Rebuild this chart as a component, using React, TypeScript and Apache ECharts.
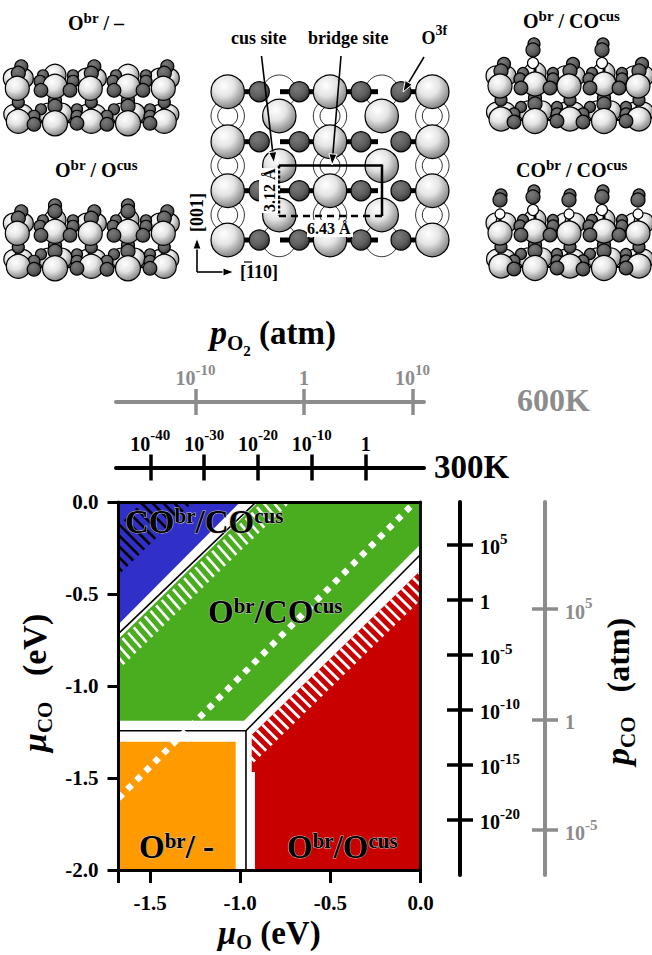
import React, { useEffect, useRef } from "react";
import * as echarts from "echarts";

const SERIF = '"Liberation Serif", "Times New Roman", serif';

// ---- phase diagram data (μO, μCO in eV) ----
const xRange = [-1.675, 0];
const yRange = [-2, 0];
const xTickValues = [-1.675, -1.5, -1, -0.5, 0];
const xLabelValues = [-1.5, -1, -0.5, 0];
const yTickValues = [0, -0.5, -1, -1.5, -2];

const blueRegion = [[-1.675, -0.665], [-1.675, 0], [-1.0, 0]];
const greenRegion = [[-1.675, -1.189], [-0.979, -1.189], [-0.008, -0.238], [0, -0.238], [0, 0], [-0.9, 0], [-1.675, -0.745]];
const orangeRegion = [[-1.675, -2], [-1.025, -2], [-1.025, -1.303], [-1.675, -1.303]];
const redRegion = [[-0.936, -1.266], [0, -0.372], [0, -2], [-0.918, -2], [-0.918, -1.467], [-0.936, -1.467]];
const regionColors = ["#3030c8", "#4aad20", "#ff9b00", "#c80000"];

const boundaryA = [[-1.675, -0.715], [-0.912, 0]];
const boundaryB = [[-1.675, -1.243], [-0.968, -1.243], [-0.968, -2]];
const boundaryC = [[-0.968, -1.243], [0, -0.285]];
const dottedLine = [[-1.675, -1.61], [-0.05, -0.02]];

const blackHatchEdge = [[-1.777, -0.495], [-1.195, 0.065]];
const greenHatchEdge = [[-1.777, -0.859], [-0.752, 0.12]];
const redHatchEdge = [[-1.001, -1.329], [0.0515, -0.324]];

// ---- pressure scales (log10 p) ----
const o2Range600 = [-17.33, 11.06];
const o2Ticks600 = [-10, 0, 10];
const o2Range300 = [-46.37, 10.83];
const o2Ticks300 = [-40, -30, -20, -10, 0];
const coRange300 = [-25.06, 8.85];
const coTicks300 = [5, 0, -5, -10, -15, -20];
const coRange600 = [-7.03, 9.81];
const coTicks600 = [5, 0, -5];

// ---- text helpers ----
type Run = [string, number, number?, boolean?]; // text, size, rise, italic
let ctx: CanvasRenderingContext2D | null = null;
function fontOf(size: number, italic?: boolean) {
  return `${italic ? "italic " : ""}bold ${size}px ${SERIF}`;
}
function widthOf(t: string, size: number, italic?: boolean) {
  if (!ctx) ctx = document.createElement("canvas").getContext("2d");
  ctx!.font = fontOf(size, italic);
  return ctx!.measureText(t).width;
}
function runs(x: number, baseline: number, items: Run[], o: any = {}) {
  let cx = 0;
  const children = items.map(([t, size, rise = 0, italic]) => {
    const el = {
      type: "text",
      x: cx,
      y: -rise - 0.3375 * size,
      z: 100,
      style: {
        text: t,
        font: fontOf(size, italic),
        fill: o.fill || "#000",
        textVerticalAlign: "middle",
        textAlign: "left",
        ...(o.stroke ? { stroke: o.stroke, lineWidth: o.lineWidth || 1 } : {}),
      },
    };
    cx += widthOf(t, size, italic);
    return el;
  });
  return { type: "group", x, y: baseline, rotation: o.rotation || 0, children };
}

// ---- atoms ----
const lightFill = {
  type: "radial", x: 0.38, y: 0.32, r: 0.72,
  colorStops: [{ offset: 0, color: "#ffffff" }, { offset: 0.45, color: "#e4e4e4" }, { offset: 1, color: "#7c7c7c" }],
};
const darkFill = {
  type: "radial", x: 0.38, y: 0.32, r: 0.72,
  colorStops: [{ offset: 0, color: "#7a7a7a" }, { offset: 0.6, color: "#5e5e5e" }, { offset: 1, color: "#333333" }],
};
function atom(cx: number, cy: number, r: number, kind: "l" | "d" | "w", lw = 1.2) {
  return {
    type: "circle",
    shape: { cx, cy, r },
    style: { fill: kind === "l" ? lightFill : kind === "d" ? darkFill : "#ffffff", stroke: "#000", lineWidth: lw },
  };
}
function bar(x1: number, y1: number, x2: number, y2: number, w = 3, color = "#000", dash?: any) {
  return {
    type: "line",
    shape: { x1, y1, x2, y2 },
    style: { stroke: color, lineWidth: w, ...(dash ? { lineDash: dash } : {}) },
  };
}

function slab(x: number, y: number, P: number, B: number, cusTop: "none" | "O" | "CO", brCO: boolean) {
  const out: any[] = [];
  const colsA = [0, P, 2 * P];
  const colsB = [B, B + P];
  // lower back layer
  colsA.forEach((X) => {
    out.push(atom(X - 4, 26, 9.5, "l"), atom(X + 6, 26, 9.5, "l"));
  });
  colsB.forEach((X) => {
    out.push(atom(X - 7, 25, 10, "l"), atom(X + 7, 25, 10, "l"));
    out.push(bar(X - 20, 34, X + 20, 34, 2));
    out.push(atom(X, 12, 6.5, "d"), atom(X, 18, 7, "d"));
  });
  colsB.forEach((X) => {
    out.push(atom(X - 14, 21, 5.5, "d"), atom(X + 22, 21, 5.5, "d"));
    out.push(atom(X - 21, 28, 6, "d"), atom(X + 22, 28, 6, "d"));
  });
  colsA.forEach((X) => out.push(atom(X + 1, 33, 12, "l")));
  colsB.forEach((X) => out.push(atom(X, 35, 12.5, "l")));
  colsB.forEach((X) => {
    out.push(atom(X - 21, 36, 6.8, "d"), atom(X + 22, 35, 6.8, "d"));
  });
  // upper back layer
  colsA.forEach((X) => {
    out.push(atom(X + 1, 14, 6, "d"));
    out.push(atom(X - 4, -10, 10, "l"), atom(X + 6, -10, 10, "l"));
  });
  colsB.forEach((X) => {
    out.push(atom(X, -13, 11, "l"));
    out.push(bar(X - 18, -1, X + 18, -1, 2));
  });
  colsB.forEach((X) => {
    out.push(atom(X - 12, -13, 5.5, "d"), atom(X + 18, -13, 5.5, "d"));
    out.push(atom(X - 15, -7, 6, "d"), atom(X + 18, -7, 6, "d"));
  });
  // top adsorbates on the A columns
  colsA.forEach((X) => {
    if (brCO) {
      out.push(bar(X, -8, X, -16, 3));
      out.push(atom(X, -19, 5, "w"), atom(X + 1, -38, 6, "d"), atom(X, -33, 7, "d"));
    } else {
      out.push(atom(X + 4, -22, 6.5, "d"), atom(X + 1, -15, 7, "d"));
    }
  });
  // top adsorbates on the B columns
  colsB.forEach((X) => {
    if (cusTop === "O") {
      out.push(atom(X, -28, 6.5, "d"), atom(X, -22, 7, "d"));
    } else if (cusTop === "CO") {
      out.push(bar(X, -10, X, -18, 3));
      out.push(atom(X - 2, -23, 5.5, "w"), atom(X - 1, -42, 6, "d"), atom(X - 2, -36, 7, "d"));
    }
  });
  colsB.forEach((X) => out.push(atom(X, -2, 12, "l")));
  colsA.forEach((X) => out.push(atom(X, 0, 12, "l")));
  colsB.forEach((X) => {
    out.push(atom(X - 14, 2, 6.8, "d"), atom(X + 15, 2, 6.8, "d"));
  });
  return { type: "group", x, y, children: out };
}

function topView() {
  const cols = [227.7, 330, 432.3];
  const rows = [91.7, 141.7, 190.7, 240];
  const midCols = [279.3, 381.7];
  const midRows = [116, 165.7, 215];
  const dark = [259.3, 299.3, 361, 401];
  const out: any[] = [];
  midCols.forEach((x) => {
    [rows[0], rows[3]].forEach((y) => out.push(atom(x, y, 16.7, "w", 0.8)));
  });
  cols.forEach((x) =>
    midRows.forEach((y) => {
      out.push(atom(x, y, 16.7, "w", 0.8), atom(x, y, 10, "w", 0.8));
    })
  );
  rows.forEach((y) => {
    [[240, 250], [280, 290], [308, 316], [344, 352], [370, 378], [392, 400], [410, 420]].forEach(([a, b]) =>
      out.push(bar(a, y, b, y, 5))
    );
  });
  rows.forEach((y) => dark.forEach((x) => out.push(atom(x, y, 10, "d"))));
  midCols.forEach((x) => midRows.forEach((y) => out.push(atom(x, y, 16.7, "l"))));
  cols.forEach((x) => rows.forEach((y) => out.push(atom(x, y, 16.7, "l"))));

  // unit cell
  out.push(bar(279, 165.5, 382, 165.5, 2.5));
  out.push(bar(382, 164.5, 382, 216, 2.5));
  out.push(bar(279, 216, 382, 216, 2.5, "#000", [7, 5]));
  out.push(bar(279, 165.5, 279, 216, 2.5, "#000", [3, 2]));
  // dimension labels
  out.push({ type: "rect", shape: { x: 259, y: 168, width: 19, height: 45 }, style: { fill: "#fff" } });
  out.push({ type: "rect", shape: { x: 307, y: 220, width: 46, height: 17 }, style: { fill: "#fff" } });
  out.push(runs(275, 212, [["3.12 Å", 16]], { rotation: Math.PI / 2 }));
  out.push(runs(307, 234, [["6.43 Å", 16]]));
  // arrows
  const arrow = (x1: number, y1: number, x2: number, y2: number) => {
    const a = Math.atan2(y2 - y1, x2 - x1);
    const L = 11;
    const W = 4;
    const bx = x2 - L * Math.cos(a);
    const by = y2 - L * Math.sin(a);
    out.push(bar(x1, y1, bx, by, 1.6));
    out.push({
      type: "polygon",
      shape: {
        points: [
          [x2, y2],
          [bx - W * Math.sin(a), by + W * Math.cos(a)],
          [bx + W * Math.sin(a), by - W * Math.cos(a)],
        ],
      },
      style: { fill: "#000", stroke: "#fff", lineWidth: 1 },
    });
  };
  arrow(261.5, 56, 274, 163);
  arrow(341, 56, 332, 165);
  arrow(424, 57, 403, 92);
  arrow(197, 272, 197, 238);
  arrow(197, 272, 234, 272);
  out.push(bar(244, 262, 252, 262, 1.2));
  return { type: "group", children: out };
}

function App() {
  const ref = useRef<HTMLDivElement>(null);
  useEffect(() => {
    const chart = echarts.init(ref.current!, null, { renderer: "svg" });

    const regions = [blueRegion, greenRegion, orangeRegion, redRegion];
    const bands = [
      { edge: blackHatchEdge, off: [-25, -25], color: "#000", width: 2.6 },
      { edge: greenHatchEdge, off: [13, 15], color: "#fff", width: 2.6 },
      { edge: redHatchEdge, off: [15, 15], color: "#fff", width: 2.8 },
    ];
    const period = 7.7;

    const labelFont = { fontFamily: SERIF, fontWeight: "bold" as const };
    const pLabel = (color: string) => ({
      ...labelFont,
      color,
      formatter: (v: number) => (v === 0 ? "{b|1}" : `{b|10}{s|${v}}`),
      hideOverlap: false,
      rich: {
        b: { ...labelFont, color, fontSize: 20, lineHeight: 26, verticalAlign: "bottom" },
        s: { ...labelFont, color, fontSize: 15, lineHeight: 26, verticalAlign: "top" },
      },
    });
    const hidden = (gridIndex: number, extra: any = {}) => ({
      type: "value", gridIndex, show: false, min: 0, max: 1, ...extra,
    });
    const pAxes = (gridIndex: number, range: number[], ticks: number[], color: string, pos: string, margin: number, tickW: number, lineW: number, len: number) => [
      {
        type: "value", gridIndex, position: pos, min: range[0], max: range[1], z: 5,
        splitLine: { show: false },
        axisLine: { show: true, onZero: false, lineStyle: { color, width: lineW } },
        axisTick: { show: true, length: len, customValues: ticks, lineStyle: { color, width: tickW } },
        axisLabel: { ...pLabel(color), margin, customValues: ticks, align: pos === "right" ? "left" : "center" },
      },
      {
        type: "value", gridIndex, position: pos, min: range[0], max: range[1], z: 5,
        splitLine: { show: false },
        axisLine: { show: false, onZero: false },
        axisLabel: { show: false },
        axisTick: { show: true, inside: true, length: len, customValues: ticks, lineStyle: { color, width: tickW } },
      },
    ];

    const textSpec = (x: number, y: number, t: Run[], o?: any) => runs(x, y, t, o);
    const phaseOpt = { stroke: "#c4c4c4", lineWidth: 1 };

    const option: any = {
      animation: false,
      backgroundColor: "#fff",
      grid: [
        { left: 118.5, top: 502, width: 302, height: 368 },
        { left: 116, top: 402, width: 308, height: 1 },
        { left: 116, top: 467.5, width: 308, height: 1 },
        { left: 459, top: 502, width: 1, height: 373 },
        { left: 544, top: 502, width: 1, height: 373 },
      ],
      xAxis: [
        {
          type: "value", gridIndex: 0, position: "bottom", min: xRange[0], max: xRange[1], z: 5,
          splitLine: { show: false },
          axisLine: { show: true, onZero: false, lineStyle: { color: "#000", width: 3 } },
          axisTick: { show: true, length: 13, customValues: xTickValues, lineStyle: { color: "#000", width: 3 } },
          axisLabel: {
            ...labelFont, fontSize: 21, color: "#000", margin: 22, customValues: xLabelValues, hideOverlap: false,
            formatter: (v: number) => v.toFixed(1),
          },
        },
        {
          type: "value", gridIndex: 0, position: "top", min: xRange[0], max: xRange[1], z: 5,
          splitLine: { show: false }, axisTick: { show: false }, axisLabel: { show: false },
          axisLine: { show: true, onZero: false, lineStyle: { color: "#000", width: 3 } },
        },
        ...pAxes(1, o2Range600, o2Ticks600, "#8c8c8c", "top", 14, 3.5, 4, 13),
        ...pAxes(2, o2Range300, o2Ticks300, "#000", "top", 14, 3.5, 4, 13),
        hidden(3),
        hidden(4),
      ],
      yAxis: [
        {
          type: "value", gridIndex: 0, position: "left", min: yRange[0], max: yRange[1], z: 5,
          splitLine: { show: false },
          axisLine: { show: true, onZero: false, lineStyle: { color: "#000", width: 3 } },
          axisTick: { show: true, length: 11, customValues: yTickValues, lineStyle: { color: "#000", width: 3 } },
          axisLabel: {
            ...labelFont, fontSize: 21, color: "#000", margin: 20, customValues: yTickValues, hideOverlap: false,
            formatter: (v: number) => v.toFixed(1),
          },
        },
        {
          type: "value", gridIndex: 0, position: "right", min: yRange[0], max: yRange[1], z: 5,
          splitLine: { show: false }, axisTick: { show: false }, axisLabel: { show: false },
          axisLine: { show: true, onZero: false, lineStyle: { color: "#111", width: 3 } },
        },
        hidden(1),
        hidden(2),
        ...pAxes(3, coRange300, coTicks300, "#000", "right", 20, 3.5, 4, 13),
        ...pAxes(4, coRange600, coTicks600, "#8c8c8c", "right", 20, 3.5, 4, 13),
      ],
      series: [
        {
          type: "custom",
          xAxisIndex: 0,
          yAxisIndex: 0,
          clip: true,
          silent: true,
          data: regions.map((_, i) => [i]),
          renderItem: (params: any, api: any) => ({
            type: "polygon",
            shape: { points: regions[params.dataIndex].map((p) => api.coord(p)) },
            style: { fill: regionColors[params.dataIndex] },
          }),
        },
        {
          type: "custom",
          xAxisIndex: 0,
          yAxisIndex: 0,
          clip: true,
          silent: true,
          data: bands.map((_, i) => [i]),
          renderItem: (params: any, api: any) => {
            const b = bands[params.dataIndex];
            const a = api.coord(b.edge[0]);
            const c = api.coord(b.edge[1]);
            const n = Math.floor(Math.hypot(c[0] - a[0], c[1] - a[1]) / period);
            const children: any[] = [];
            for (let k = 0; k <= n; k++) {
              const x = a[0] + ((c[0] - a[0]) * k) / n;
              const y = a[1] + ((c[1] - a[1]) * k) / n;
              children.push({
                type: "line",
                shape: { x1: x, y1: y, x2: x + b.off[0], y2: y + b.off[1] },
                style: { stroke: b.color, lineWidth: b.width },
              });
            }
            return { type: "group", children };
          },
        },
        ...[boundaryA, boundaryB, boundaryC].map((d) => ({
          type: "line", xAxisIndex: 0, yAxisIndex: 0, data: d, symbol: "none", silent: true,
          lineStyle: { color: "#000", width: 1.6 },
        })),
        {
          type: "line", xAxisIndex: 0, yAxisIndex: 0, data: dottedLine, symbol: "none", silent: true,
          lineStyle: { color: "#fff", width: 6.3, type: [6, 6.7] },
        },
      ],
      graphic: [
        slab(17.3, 88.3, 73, 37.7, "none", false),
        slab(17.3, 233.3, 73, 37.7, "O", false),
        slab(500, 86, 69, 35, "CO", false),
        slab(500, 233, 69, 35, "CO", true),
        topView(),
        textSpec(68, 30, [["O", 20], ["br", 15, 7], [" / –", 20]]),
        textSpec(55, 176.7, [["O", 20], ["br", 15, 7], [" / O", 20], ["cus", 15, 7]]),
        textSpec(523, 28, [["O", 20], ["br", 15, 7], [" / CO", 20], ["cus", 15, 7]]),
        textSpec(516, 176.7, [["CO", 20], ["br", 15, 7], [" / CO", 20], ["cus", 15, 7]]),
        textSpec(231, 44.5, [["cus site", 18]]),
        textSpec(308, 44.5, [["bridge site", 18]]),
        textSpec(421.5, 44.5, [["O", 18], ["3f", 14, 9]]),
        textSpec(203, 232, [["[001]", 18]], { rotation: Math.PI / 2 }),
        textSpec(240, 278, [["[110]", 18]]),
        // pressure scale titles
        textSpec(210, 344, [["p", 34, 0, true], ["O", 21, -6], ["2", 15, -12], [" (atm)", 33]]),
        textSpec(517, 411, [["600K", 32]], { fill: "#8c8c8c" }),
        textSpec(434, 478, [["300K", 33]]),
        textSpec(629, 765, [["p", 34, 0, true], ["CO", 21, -6], ["   (atm)", 32]], { rotation: Math.PI / 2 }),
        // axis titles
        textSpec(218, 944, [["μ", 33, 0, true], ["O", 20, -5], [" (eV)", 33]]),
        textSpec(46, 752, [["μ", 34, 0, true], ["CO", 21, -6], ["   (eV)", 34]], { rotation: Math.PI / 2 }),
        // phase names
        textSpec(125, 533, [["CO", 33], ["br", 21, 10], ["/CO", 33], ["cus", 21, 10]], phaseOpt),
        textSpec(208, 623, [["O", 33], ["br", 21, 10], ["/CO", 33], ["cus", 21, 10]], phaseOpt),
        textSpec(139, 858, [["O", 33], ["br", 21, 10], ["/ -", 33]], phaseOpt),
        textSpec(287, 858, [["O", 33], ["br", 21, 10], ["/O", 33], ["cus", 21, 10]], phaseOpt),
      ],
    };
    chart.setOption(option);
    return () => chart.dispose();
  }, []);
  return <div ref={ref} style={{ position: "absolute", left: 0, top: 0, width: 652, height: 955 }} />;
}

export default App;
